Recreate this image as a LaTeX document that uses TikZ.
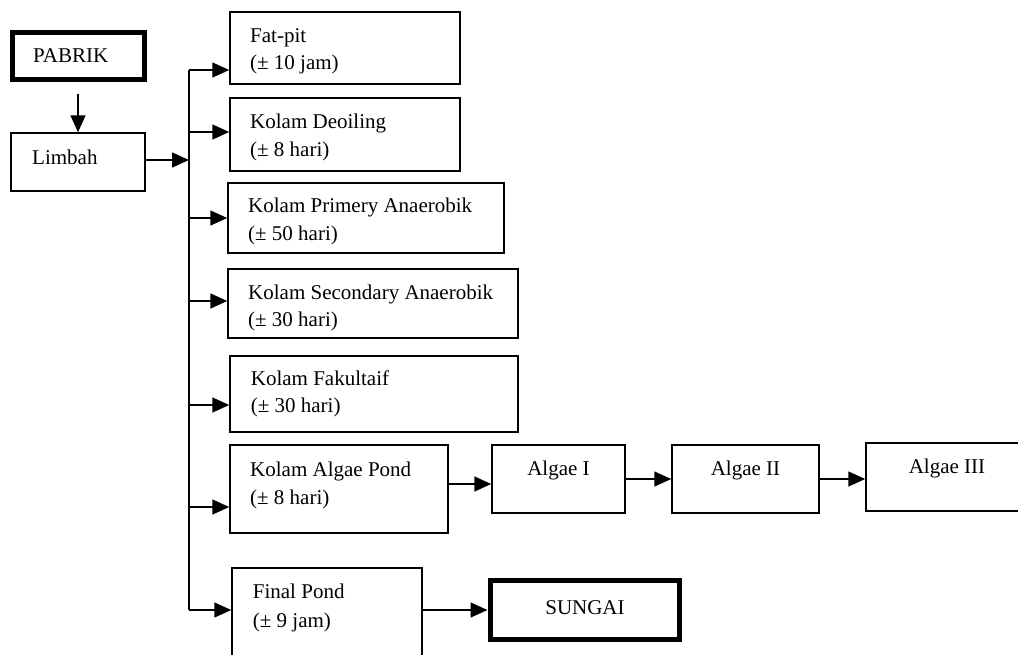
\documentclass[tikz,border=0pt]{standalone}
\usepackage{fontspec}
\setmainfont{Liberation Serif}
\usetikzlibrary{arrows.meta}
\begin{document}
\begin{tikzpicture}[x=1pt,y=-1pt,
  every node/.style={font=\fontsize{21}{28}\selectfont},
  box/.style={draw=black,line width=1.5pt,inner sep=0pt,rectangle},
  thickbox/.style={draw=black,line width=5pt,inner sep=0pt,rectangle},
  lbl/.style={anchor=base west,inner sep=0pt},
  clbl/.style={anchor=base,inner sep=0pt},
  link/.style={line width=1.5pt,-{Triangle[length=17pt,width=15pt]}},
  bus/.style={line width=1.5pt}]
\useasboundingbox (0,0) rectangle (1018,654);
\clip (0,0) rectangle (1018,654);
% boxes
\node[thickbox,minimum width=132pt,minimum height=47pt] (pabrik) at (78,55.5) {};
\node[box,minimum width=134pt,minimum height=58pt] (limbah) at (78,162) {};
\node[box,minimum width=230pt,minimum height=72pt] (fatpit) at (345,48) {};
\node[box,minimum width=230pt,minimum height=73pt] (deoil) at (345,134.5) {};
\node[box,minimum width=276pt,minimum height=70pt] (prim) at (366,218) {};
\node[box,minimum width=290pt,minimum height=69pt] (sec) at (373,303.5) {};
\node[box,minimum width=288pt,minimum height=76pt] (fak) at (374,394) {};
\node[box,minimum width=218pt,minimum height=88pt] (apond) at (339,489) {};
\node[box,minimum width=133pt,minimum height=68pt] (alg1) at (558.5,479) {};
\node[box,minimum width=147pt,minimum height=68pt] (alg2) at (745.5,479) {};
\node[box,minimum width=162pt,minimum height=68pt] (alg3) at (947,477) {};
\node[box,minimum width=190pt,minimum height=102pt] (final) at (327,619) {};
\node[thickbox,minimum width=189pt,minimum height=59pt] (sungai) at (584.5,609.5) {};
% texts
\node[lbl] (tpabrik) at (33,62.7) {PABRIK};
\node[lbl] (tlimbah) at (32,164) {Limbah};
\node[lbl] (tfat1) at (250,42) {Fat-pit};
\node[lbl] (tfat2) at (250,69) {(± 10 jam)};
\node[lbl] (tdeo1) at (250,128) {Kolam Deoiling};
\node[lbl] (tdeo2) at (250,156) {(± 8 hari)};
\node[lbl] (tpri1) at (248,212.7) {Kolam Primery Anaerobik};
\node[lbl] (tpri2) at (248,240.7) {(± 50 hari)};
\node[lbl] (tsec1) at (248,299) {Kolam Secondary Anaerobik};
\node[lbl] (tsec2) at (248,326.7) {(± 30 hari)};
\node[lbl] (tfak1) at (250.7,385) {Kolam Fakultaif};
\node[lbl] (tfak2) at (250.7,412.7) {(± 30 hari)};
\node[lbl] (tap1) at (250,476) {Kolam Algae Pond};
\node[lbl] (tap2) at (250,504) {(± 8 hari)};
\node[clbl] (ta1) at (558.5,475) {Algae I};
\node[clbl] (ta2) at (745.5,475) {Algae II};
\node[clbl] (ta3) at (947,473.3) {Algae III};
\node[lbl] (tfin1) at (252.7,598.3) {Final Pond};
\node[lbl] (tfin2) at (252.7,627) {(± 9 jam)};
\node[clbl] (tsun) at (585,614.3) {SUNGAI};
% bus coordinates
\coordinate (lb) at (189,160);
\coordinate (b1) at (189,70);
\coordinate (b2) at (189,132);
\coordinate (b3) at (189,218);
\coordinate (b4) at (189,301);
\coordinate (b5) at (189,405);
\coordinate (b6) at (189,507);
\coordinate (b7) at (189,610);
\coordinate (ap) at (448,484);
% connectors
\draw[link,shorten <=12pt] (pabrik.south) -- (limbah.north);
\draw[link] (limbah.east |- lb) -- (lb);
\draw[bus] (b1) -- (b7);
\draw[link] (b1) -- (b1 -| fatpit.west);
\draw[link] (b2) -- (b2 -| deoil.west);
\draw[link] (b3) -- (b3 -| prim.west);
\draw[link] (b4) -- (b4 -| sec.west);
\draw[link] (b5) -- (b5 -| fak.west);
\draw[link] (b6) -- (b6 -| apond.west);
\draw[link] (b7) -- (b7 -| final.west);
\draw[link] (apond.east |- ap) -- (alg1.west |- ap);
\draw[link] (alg1.east) -- (alg2.west);
\draw[link] (alg2.east) -- (alg2.east -| alg3.west);
\draw[link] (final.east |- b7) -- (sungai.west |- b7);
\end{tikzpicture}
\end{document}
